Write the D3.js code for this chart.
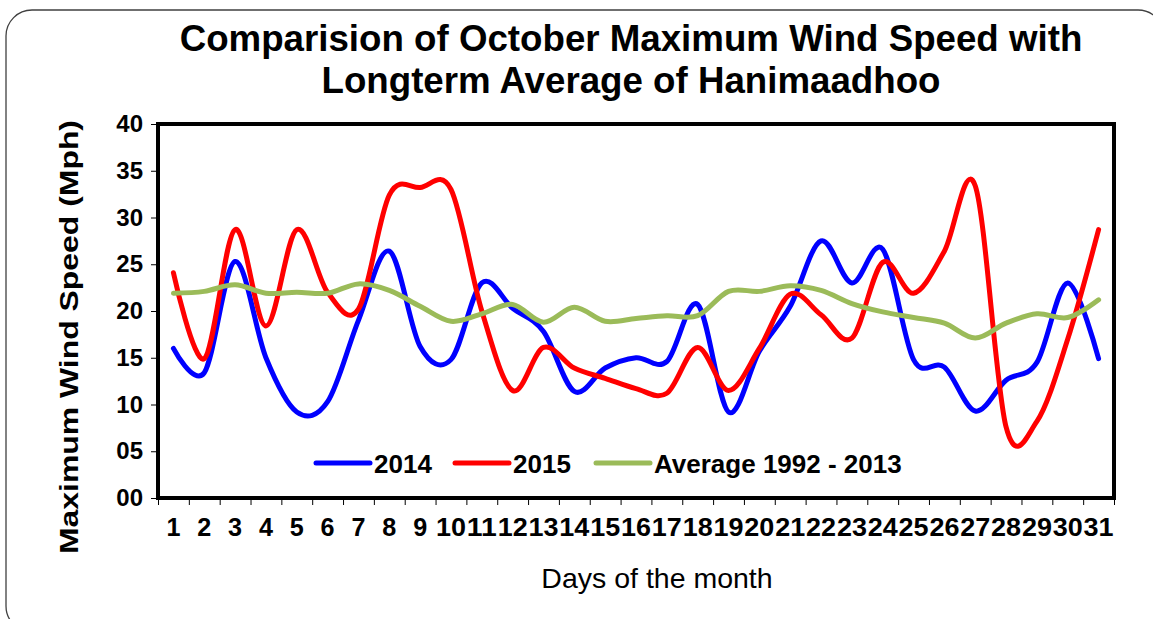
<!DOCTYPE html>
<html>
<head>
<meta charset="utf-8">
<script src="https://cdn.jsdelivr.net/npm/d3@7"></script>
<style>
  html, body { margin: 0; padding: 0; background: #fff; }
  svg { display: block; font-family: "Liberation Sans", Arial, sans-serif; }
</style>
</head>
<body>
<svg id="chart" width="1153" height="619"></svg>
<script>
// ---- data ----
const days = d3.range(1, 32);
const dayLabels = days.map(String);
const yTicks = [0, 5, 10, 15, 20, 25, 30, 35, 40];
const s2014 = [16.0, 13.4, 25.3, 15.0, 9.2, 10.3, 19.0, 26.4, 16.2, 14.8, 23.0, 20.3, 17.8, 11.4, 13.9, 15.0, 14.6, 20.7, 9.2, 15.7, 20.5, 27.5, 23.0, 26.6, 14.8, 14.0, 9.3, 12.6, 14.5, 23.0, 14.9];
const s2015 = [24.1, 14.9, 28.7, 18.4, 28.7, 22.0, 20.2, 32.4, 33.2, 33.0, 20.0, 11.5, 16.1, 13.9, 12.8, 11.7, 11.2, 16.1, 11.5, 16.0, 21.8, 19.6, 17.1, 25.2, 21.9, 26.4, 33.4, 7.6, 8.2, 17.0, 28.7];
const sAvg = [21.9, 22.1, 22.8, 21.9, 22.0, 21.9, 22.9, 22.2, 20.5, 18.9, 19.7, 20.7, 18.8, 20.4, 18.9, 19.2, 19.5, 19.5, 22.1, 22.1, 22.7, 22.2, 20.8, 19.9, 19.3, 18.7, 17.1, 18.7, 19.7, 19.3, 21.2];
const seriesNames = ["2014", "2015", "Average 1992 - 2013"];
const seriesColors = ["#0000FF", "#FF0000", "#9BBB59"];
const titleLines = ["Comparision of October Maximum Wind Speed with", "Longterm Average of Hanimaadhoo"];

// ---- layout ----
const svg = d3.select("#chart");
const L = 158, R = 1114, T = 124, B = 498;

// outer rounded border
svg.append("rect").attr("x", 6).attr("y", 10).attr("width", 1158).attr("height", 622)
  .attr("rx", 26).attr("fill", "#fff").attr("stroke", "#404040").attr("stroke-width", 1.3);

const x = d3.scaleBand().domain(days).range([L, R]).padding(0);
const y = d3.scaleLinear().domain([0, 40]).range([B, T]);

// title
svg.append("g").selectAll("text").data(titleLines).join("text")
  .attr("x", 631).attr("y", (d, i) => 51 + i * 42)
  .attr("text-anchor", "middle").attr("font-weight", "bold").attr("font-size", 36.7)
  .attr("fill", "#000").text(d => d);

// y axis
const yAxis = d3.axisLeft(y).tickValues(yTicks).tickFormat(d3.format("02d")).tickSize(7).tickPadding(8);
const gy = svg.append("g").attr("transform", `translate(${L},0)`).call(yAxis);
gy.select(".domain").remove();
gy.selectAll(".tick line").attr("stroke", "#000").attr("stroke-width", 1);
gy.selectAll(".tick text").attr("font-size", 24).attr("font-weight", "bold").attr("fill", "#000")
  .attr("font-family", "Liberation Sans, Arial, sans-serif");

// x axis tick marks at category boundaries
const xb = d3.scaleLinear().domain([0, 31]).range([L, R]);
const gxt = svg.append("g").attr("transform", `translate(0,${B})`)
  .call(d3.axisBottom(xb).tickValues(d3.range(0, 32)).tickSize(7).tickFormat(""));
gxt.select(".domain").remove();
gxt.selectAll(".tick line").attr("stroke", "#000").attr("stroke-width", 1);

// x labels
const gx = svg.append("g").attr("transform", `translate(0,${B})`)
  .call(d3.axisBottom(x).tickSize(0).tickPadding(20).tickFormat((d, i) => dayLabels[i]));
gx.select(".domain").remove();
gx.selectAll(".tick text").attr("font-size", 26).attr("font-weight", "bold").attr("fill", "#000")
  .attr("font-family", "Liberation Sans, Arial, sans-serif")
  .each(function(d, i) {
    if (dayLabels[i].length > 1) d3.select(this).attr("textLength", 30).attr("lengthAdjust", "spacingAndGlyphs");
    else d3.select(this).attr("textLength", 14).attr("lengthAdjust", "spacingAndGlyphs");
  });

// axis titles
svg.append("text").attr("transform", "translate(78,337) rotate(-90)")
  .attr("text-anchor", "middle").attr("font-weight", "bold").attr("font-size", 26)
  .attr("textLength", 434).attr("lengthAdjust", "spacingAndGlyphs")
  .text("Maximum Wind Speed (Mph)");
svg.append("text").attr("x", 657).attr("y", 588).attr("text-anchor", "middle")
  .attr("font-size", 28.5).text("Days of the month");

// lines
const line = d3.line()
  .x((d, i) => x(days[i]) + x.bandwidth() / 2)
  .y(d => y(d))
  .curve(d3.curveCatmullRom.alpha(0));
const allSeries = [s2014, s2015, sAvg];
svg.append("g").selectAll("path").data(allSeries).join("path")
  .attr("d", d => line(d)).attr("fill", "none")
  .attr("stroke", (d, i) => seriesColors[i]).attr("stroke-width", 5)
  .attr("stroke-linejoin", "round").attr("stroke-linecap", "round");

// frame
svg.append("rect").attr("x", L).attr("y", T).attr("width", R - L).attr("height", B - T)
  .attr("fill", "none").attr("stroke", "#000").attr("stroke-width", 4);

// legend
const legendX = [316, 455, 596];
const lg = svg.append("g").selectAll("g").data(seriesNames).join("g")
  .attr("transform", (d, i) => `translate(${legendX[i]},463)`);
lg.append("line").attr("x1", 0).attr("x2", 54).attr("y1", 0).attr("y2", 0)
  .attr("stroke", (d, i) => seriesColors[i]).attr("stroke-width", 5).attr("stroke-linecap", "round");
lg.append("text").attr("x", 58).attr("y", 9.5).attr("font-size", 26).attr("font-weight", "bold")
  .attr("fill", "#000").text(d => d);
</script>
</body>
</html>
